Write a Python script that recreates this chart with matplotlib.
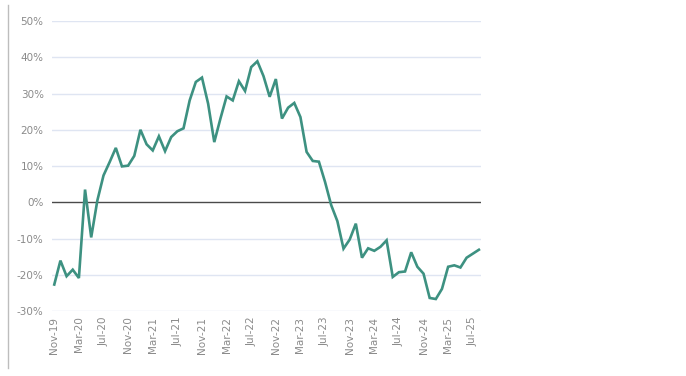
import numpy as np
import pandas as pd
import matplotlib
matplotlib.use("Agg")
import matplotlib.pyplot as plt
from matplotlib.lines import Line2D

# monthly values, Nov-19 .. Aug-25 (%)
values = [
    -22.7, -16.1, -20.4, -18.6, -20.9, 3.5, -9.7, 0.5, 7.4, 11.1, 15.0, 9.9, 10.1, 12.8,
    20.0, 16.0, 14.3, 18.2, 14.1, 18.0, 19.6, 20.4, 28.1, 33.2, 34.4, 27.2,
    16.6, 23.1, 29.2, 28.1, 33.4, 30.7, 37.3, 38.9, 34.8, 29.1, 34.0, 23.1,
    26.1, 27.4, 23.5, 13.9, 11.4, 11.2, 5.6, -0.8, -5.2, -12.8, -10.3, -5.9,
    -15.3, -12.7, -13.4, -12.3, -10.5, -20.6, -19.3, -19.1, -13.8, -17.8, -19.7, -26.4,
    -26.7, -23.9, -17.8, -17.4, -18.0, -15.3, -14.2, -13.1,
]
months = pd.date_range("2019-11-01", periods=len(values), freq="MS").strftime("%b-%y").tolist()
y_ticks = [-30, -20, -10, 0, 10, 20, 30, 40, 50]

fig = plt.figure(figsize=(6.86, 3.76), dpi=100)
ax = fig.add_axes([0.0758, 0.1729, 0.625, 0.7711])

x = np.arange(len(values))
ax.plot(x, values, color="#3d9181", lw=1.9, solid_joinstyle="miter", zorder=3)

for t in y_ticks:
    if t == 0:
        ax.axhline(t, color="#4a4a4a", lw=1.0, zorder=2)
    else:
        ax.axhline(t, color="#dfe5f2", lw=1.0, zorder=1)

ax.set_ylim(-30, 50)
ax.set_xlim(-0.37, len(values) - 1 + 0.3)
ax.set_yticks(y_ticks)
ax.set_yticklabels([f"{t}%" for t in y_ticks])
tick_pos = x[::4]
ax.set_xticks(tick_pos)
ax.set_xticklabels([months[i] for i in tick_pos], rotation=90)
ax.tick_params(axis="both", length=0, colors="#8a8a8a", labelsize=7.5)
ax.tick_params(axis="y", pad=6)
ax.tick_params(axis="x", pad=4)
for s in ax.spines.values():
    s.set_visible(False)
for lab in ax.get_xticklabels() + ax.get_yticklabels():
    lab.set_fontfamily("DejaVu Sans")

# thin border line on the left edge of the figure
fig.add_artist(Line2D([8 / 686, 8 / 686], [1 - 5 / 376, 1 - 368 / 376],
                      transform=fig.transFigure, color="#bdbdbd", lw=1.0))

fig.savefig("out.png", dpi=100)
